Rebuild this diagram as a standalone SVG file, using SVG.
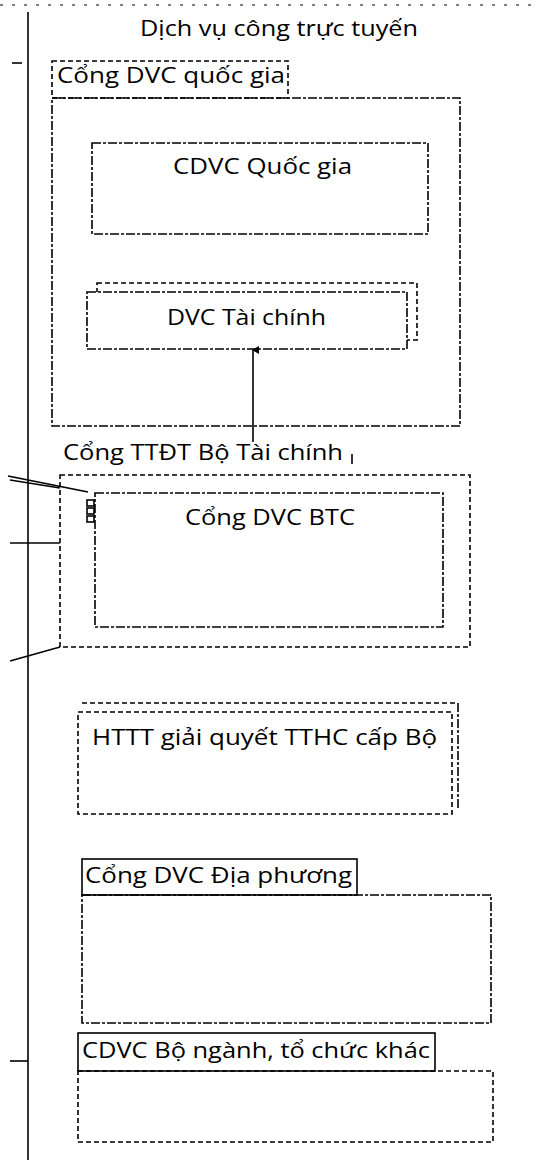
<svg xmlns="http://www.w3.org/2000/svg" width="546" height="1164" viewBox="0 0 546 1164">
<defs>
<style>
text{font-family:"Open Sans","Noto Sans","DejaVu Sans",sans-serif;font-size:22px;fill:#000}
.b{fill:none;stroke:#000;stroke-width:1.6;stroke-dasharray:9 2 3 2}
.d{fill:none;stroke:#000;stroke-width:1.6;stroke-dasharray:5 3}
.s{fill:none;stroke:#000;stroke-width:1.6}
</style>
<marker id="ah" markerWidth="8" markerHeight="8" refX="4" refY="1" orient="auto" markerUnits="userSpaceOnUse">
<path d="M0,7 L4,0 L8,7 Z" fill="#000"/>
</marker>
</defs>
<rect width="546" height="1164" fill="#fff"/>

<g id="frame">
<line x1="0" y1="5" x2="540" y2="5" stroke="#000" stroke-width="1" stroke-dasharray="3 9"/>
<line class="s" x1="28" y1="12" x2="28" y2="1160"/>
<line class="s" x1="12" y1="63" x2="22" y2="63"/>
<line class="s" x1="10" y1="1061" x2="28" y2="1061"/>
<text x="140" y="36" textLength="278" lengthAdjust="spacingAndGlyphs">Dịch vụ công trực tuyến</text>
</g>

<g id="cong-dvc-quoc-gia">
<rect class="d" x="52" y="61" width="236" height="37"/>
<text x="57" y="83" textLength="228" lengthAdjust="spacingAndGlyphs">Cổng DVC quốc gia</text>
<rect class="b" x="52" y="98" width="408" height="328"/>
</g>

<g id="cdvc-quoc-gia">
<rect class="b" x="92" y="143" width="336" height="91"/>
<text x="173" y="174" textLength="179" lengthAdjust="spacingAndGlyphs">CDVC Quốc gia</text>
</g>

<g id="dvc-tai-chinh">
<rect class="d" x="97" y="283" width="320" height="57"/>
<rect class="b" x="87" y="292" width="320" height="57" style="fill:#fff"/>
<text x="167" y="325" textLength="159" lengthAdjust="spacingAndGlyphs">DVC Tài chính</text>
</g>

<g id="cong-ttdt">
<text x="63" y="460" textLength="280" lengthAdjust="spacingAndGlyphs">Cổng TTĐT Bộ Tài chính</text>
<line class="s" x1="352" y1="454" x2="352" y2="464"/>
<rect class="d" x="60" y="475" width="410" height="172"/>
</g>

<g id="cong-dvc-btc">
<rect class="b" x="95" y="493" width="348" height="134"/>
<rect class="s" x="87" y="500" width="7" height="6" stroke-width="1.2"/>
<rect class="s" x="87" y="508" width="7" height="6" stroke-width="1.2"/>
<rect class="s" x="87" y="516" width="7" height="6" stroke-width="1.2"/>
<text x="185" y="525" textLength="170" lengthAdjust="spacingAndGlyphs">Cổng DVC BTC</text>
</g>

<g id="httt">
<line class="d" x1="82" y1="703" x2="458" y2="703"/>
<line class="b" x1="458" y1="703" x2="458" y2="808"/>
<rect class="d" x="78" y="712" width="374" height="102"/>
<text x="92" y="745" textLength="345" lengthAdjust="spacingAndGlyphs">HTTT giải quyết TTHC cấp Bộ</text>
</g>

<g id="cong-dvc-dia-phuong">
<rect class="s" x="82" y="859" width="275" height="36" stroke-width="1.3"/>
<text x="85" y="883" textLength="267" lengthAdjust="spacingAndGlyphs">Cổng DVC Địa phương</text>
<rect class="b" x="82" y="895" width="409" height="128"/>
</g>

<g id="cdvc-bo-nganh">
<rect class="s" x="78" y="1033" width="357" height="38" stroke-width="1.3"/>
<text x="82" y="1058" textLength="348" lengthAdjust="spacingAndGlyphs">CDVC Bộ ngành, tổ chức khác</text>
<rect class="d" x="78" y="1071" width="415" height="71"/>
</g>

<g id="connectors">
<line class="s" x1="253" y1="442" x2="253" y2="350" marker-end="url(#ah)"/>
<line class="s" x1="8" y1="476" x2="88" y2="492"/>
<line class="s" x1="10" y1="480" x2="60" y2="488"/>
<line class="s" x1="10" y1="543" x2="60" y2="543"/>
<line class="s" x1="10" y1="661" x2="60" y2="647"/>
</g>
</svg>
